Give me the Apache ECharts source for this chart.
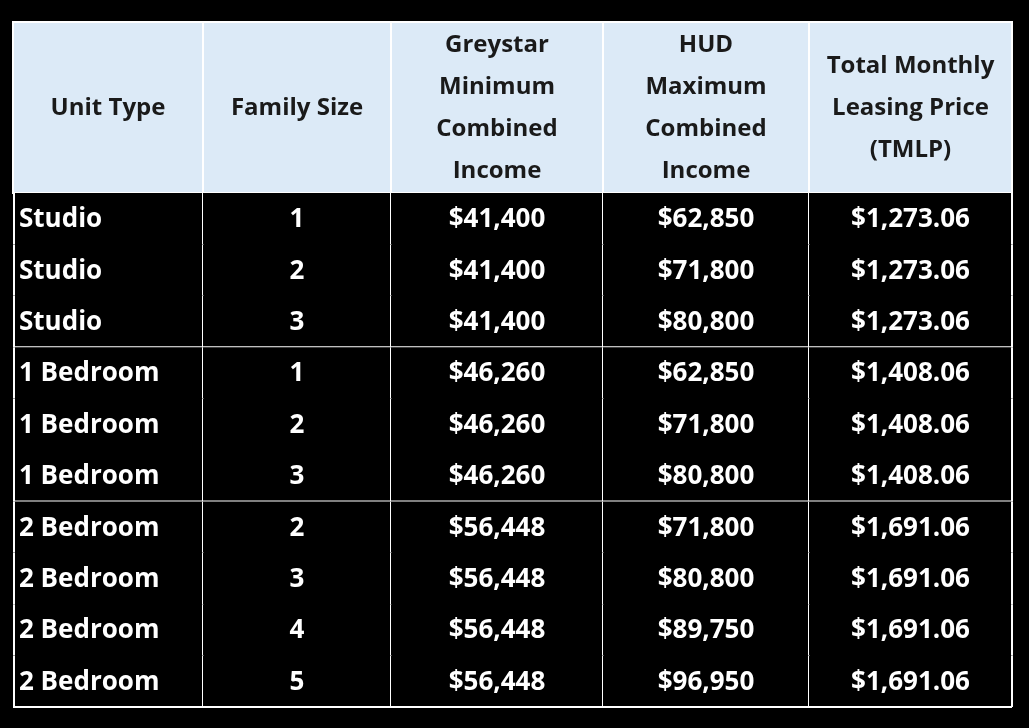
<!DOCTYPE html>
<html><head><meta charset="utf-8">
<script src="https://cdn.jsdelivr.net/npm/echarts@6/dist/echarts.min.js"></script>
<style>html,body{margin:0;background:#000}#main{width:1029px;height:728px}</style>
</head><body><div id="main"></div>
<script>
var headers=['Unit Type','Family Size','Greystar\nMinimum\nCombined\nIncome','HUD\nMaximum\nCombined\nIncome','Total Monthly\nLeasing Price\n(TMLP)'];
var unitTypes=['Studio','Studio','Studio','1 Bedroom','1 Bedroom','1 Bedroom','2 Bedroom','2 Bedroom','2 Bedroom','2 Bedroom'];
var familySize=[1,2,3,1,2,3,2,3,4,5];
var greystarMin=['$41,400','$41,400','$41,400','$46,260','$46,260','$46,260','$56,448','$56,448','$56,448','$56,448'];
var hudMax=['$62,850','$71,800','$80,800','$62,850','$71,800','$80,800','$71,800','$80,800','$89,750','$96,950'];
var tmlp=['$1,273.06','$1,273.06','$1,273.06','$1,408.06','$1,408.06','$1,408.06','$1,691.06','$1,691.06','$1,691.06','$1,691.06'];

// layout (table units = pixels inside grid)
var colEdges=[0,190,378,590,796,999];
var headH=171, rowH=51.4;
var groupBreaks=[3,6];

var cells=[];
for(var c=0;c<5;c++) cells.push([c,-1,headers[c]]);
var cols=[unitTypes,familySize,greystarMin,hudMax,tmlp];
for(var r=0;r<unitTypes.length;r++) for(var c=0;c<5;c++) cells.push([c,r,String(cols[c][r])]);

function rowTop(r){return r<0?0:headH+r*rowH;}
function rowBot(r){return r<0?headH:headH+(r+1)*rowH;}

var myChart=echarts.init(document.getElementById('main'));
myChart.setOption({
  backgroundColor:'#000',
  animation:false,
  grid:{left:13,top:22,width:999,height:685},
  xAxis:{type:'value',min:0,max:999,show:false},
  yAxis:{type:'value',min:0,max:685,inverse:true,show:false},
  series:[{
    type:'custom',
    data:cells,
    renderItem:function(params,api){
      var c=api.value(0), r=api.value(1), txt=cells[params.dataIndex][2];
      var p0=api.coord([colEdges[c],rowTop(r)]), p1=api.coord([colEdges[c+1],rowBot(r)]);
      var head=r<0;
      var children=[{
        type:'rect',
        shape:{x:p0[0],y:p0[1],width:p1[0]-p0[0],height:p1[1]-p0[1]},
        style:{fill:head?'#dceaf7':'#000',stroke:'#fff',lineWidth:head?2:0}
      }];
      if(!head){
        children.push({type:'line',shape:{x1:p1[0],y1:p0[1],x2:p1[0],y2:p1[1]},style:{stroke:'#fff',lineWidth:2}});
        if(c===0) children.push({type:'line',shape:{x1:p0[0]+1,y1:p0[1],x2:p0[0]+1,y2:p1[1]},style:{stroke:'#fff',lineWidth:2}});
        if(groupBreaks.indexOf(r+1)>=0||r===unitTypes.length-1) children.push({type:'line',shape:{x1:p0[0],y1:p1[1],x2:p1[0],y2:p1[1]},style:{stroke:'#fff',lineWidth:2}});
      }
      var left=(!head&&c===0);
      children.push({
        type:'text',
        style:{
          text:txt,
          x:left?p0[0]+6:(p0[0]+p1[0])/2,
          y:(p0[1]+p1[1])/2+1,
          align:left?'left':'center',
          verticalAlign:'middle',
          fill:head?'#1a1a1a':'#fff',
          font:head?'bold 24px "Open Sans"':'bold 26px "Open Sans"',
          lineHeight:42
        }
      });
      return {type:'group',children:children};
    }
  }]
});
</script></body></html>
